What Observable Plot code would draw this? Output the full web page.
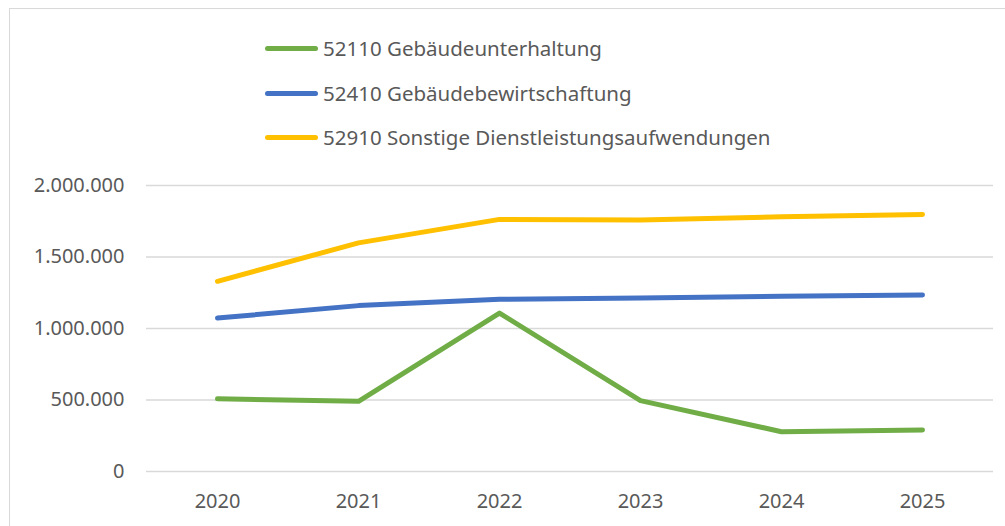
<!DOCTYPE html>
<html>
<head>
<meta charset="utf-8">
<script src="https://cdn.jsdelivr.net/npm/d3@7"></script>
<script src="https://cdn.jsdelivr.net/npm/@observablehq/plot@0.6"></script>
<style>
  html, body { margin: 0; padding: 0; background: #fff; }
  #wrap { position: relative; width: 1005px; height: 526px; overflow: hidden; font-family: "Noto Sans", sans-serif; }
  #frame { position: absolute; left: 9px; top: 8px; width: 1100px; height: 700px; border: 1.5px solid #d9d9d9; box-sizing: border-box; pointer-events: none; }
  #legend { position: relative; height: 160px; }
  .item { position: absolute; left: 265px; display: flex; align-items: center; color: #595959; font-size: 20.5px; white-space: nowrap; }
  .swatch { width: 53px; height: 5px; border-radius: 3px; margin-right: 5px; }
  #chart svg { display: block; }
</style>
</head>
<body>
<div id="wrap">
  <div id="legend"></div>
  <div id="chart"></div>
  <div id="frame"></div>
</div>
<script>
const years = ["2020", "2021", "2022", "2023", "2024", "2025"];
const seriesNames = [
  "52110 Gebäudeunterhaltung",
  "52410 Gebäudebewirtschaftung",
  "52910 Sonstige Dienstleistungsaufwendungen"
];
const seriesColors = ["#70AD47", "#4472C4", "#FFC000"];
const gebaeudeunterhaltung = [508000, 491000, 1108000, 496000, 278000, 290000];
const gebaeudebewirtschaftung = [1073000, 1160000, 1204000, 1213000, 1225000, 1234000];
const sonstigeDienstleistungen = [1330000, 1599000, 1763000, 1758000, 1781000, 1798000];
const yTicks = [0, 500000, 1000000, 1500000, 2000000];

const seriesValues = [gebaeudeunterhaltung, gebaeudebewirtschaftung, sonstigeDienstleistungen];
const data = [];
seriesNames.forEach((name, i) => {
  years.forEach((yr, j) => data.push({ series: name, year: yr, value: seriesValues[i][j] }));
});

// Legend
const legend = document.getElementById("legend");
const legendTops = [48, 93, 137];
seriesNames.forEach((name, i) => {
  const it = document.createElement("div");
  it.className = "item";
  it.style.top = (legendTops[i] - 14) + "px";
  it.style.height = "28px";
  const sw = document.createElement("span");
  sw.className = "swatch";
  sw.style.background = seriesColors[i];
  const tx = document.createElement("span");
  tx.textContent = name;
  it.appendChild(sw);
  it.appendChild(tx);
  legend.appendChild(it);
});

const de = d3.formatLocale({ decimal: ",", thousands: ".", grouping: [3], currency: ["", " €"] });
const fmt = de.format(",d");

const chart = Plot.plot({
  width: 1005,
  height: 366,
  marginLeft: 146,
  marginRight: 12,
  marginTop: 25,
  marginBottom: 55,
  style: { fontFamily: "Noto Sans, sans-serif", fontSize: "20px", color: "#595959", background: "transparent" },
  x: { type: "point", domain: years, padding: 0.5, label: null, tickSize: 0, tickPadding: 22 },
  y: { domain: [0, 2000000], ticks: yTicks, tickFormat: fmt, label: null, tickSize: 0, tickPadding: 22 },
  color: { domain: seriesNames, range: seriesColors },
  marks: [
    Plot.ruleY(yTicks, { stroke: "#d9d9d9", strokeWidth: 1.5 }),
    Plot.line(data, { x: "year", y: "value", z: "series", stroke: "series", strokeWidth: 5, strokeLinecap: "round", strokeLinejoin: "round" })
  ]
});
document.getElementById("chart").appendChild(chart);
</script>
</body>
</html>
